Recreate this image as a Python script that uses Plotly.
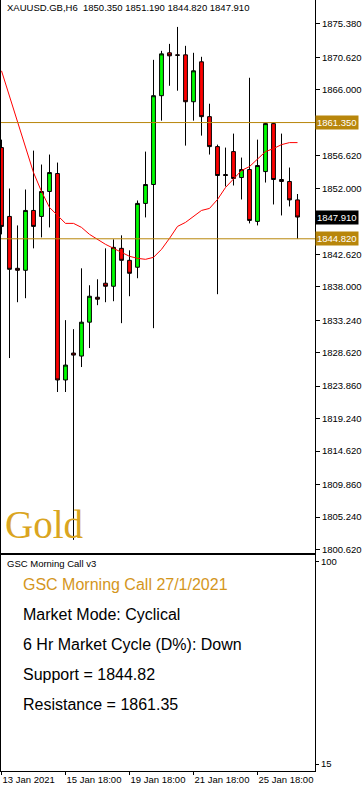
import plotly.graph_objects as go

# ---------------- data ----------------
bar_index = list(range(38))
opens = [1857.79, 1848.00, 1840.62, 1840.34, 1848.85, 1848.00, 1851.55, 1854.10, 1824.74, 1828.57,
         1828.14, 1832.96, 1836.51, 1838.50, 1838.07, 1843.46, 1841.76, 1840.77, 1849.85, 1852.54,
         1865.17, 1871.27, 1870.98, 1870.98, 1864.31, 1869.99, 1862.19, 1857.93, 1853.96, 1857.22,
         1853.53, 1854.67, 1847.29, 1854.38, 1861.20, 1853.25, 1852.97, 1850.35]
highs = [1858.92, 1851.97, 1846.72, 1851.83, 1857.36, 1855.38, 1856.80, 1855.66, 1833.25, 1831.97,
         1840.62, 1838.21, 1839.06, 1843.46, 1844.74, 1845.31, 1843.18, 1850.27, 1857.22, 1870.27,
         1871.55, 1872.54, 1874.95, 1872.26, 1871.27, 1870.70, 1864.03, 1858.21, 1857.79, 1859.78,
         1856.37, 1867.72, 1858.92, 1861.35, 1861.35, 1859.78, 1854.95, 1851.19]
lows = [1845.45, 1827.86, 1835.80, 1836.37, 1843.46, 1845.02, 1846.44, 1823.03, 1823.03, 1802.00,
        1826.58, 1829.28, 1835.38, 1835.80, 1835.94, 1832.82, 1836.65, 1839.21, 1847.86, 1832.11,
        1861.62, 1866.58, 1865.88, 1858.07, 1861.62, 1859.49, 1856.80, 1836.94, 1852.26, 1852.40,
        1850.41, 1847.01, 1846.72, 1852.82, 1849.70, 1848.14, 1849.42, 1844.82]
closes = [1846.58, 1840.48, 1840.34, 1848.85, 1846.58, 1851.55, 1854.24, 1824.74, 1826.86, 1828.28,
          1832.96, 1836.65, 1836.23, 1838.07, 1843.60, 1841.76, 1839.91, 1849.85, 1852.54, 1865.17,
          1871.12, 1870.84, 1870.92, 1864.31, 1868.71, 1862.19, 1857.93, 1853.82, 1853.82, 1853.39,
          1854.67, 1847.43, 1855.24, 1861.20, 1853.25, 1852.97, 1850.35, 1847.91]
ma_values = [1868.71, 1865.02, 1861.34, 1857.79, 1854.24, 1851.55, 1849.28, 1848.14, 1847.01, 1847.01,
             1846.44, 1845.45, 1844.74, 1844.03, 1843.46, 1842.89, 1842.33, 1842.04, 1841.90, 1842.18,
             1843.32, 1844.88, 1846.58, 1847.15, 1848.00, 1848.85, 1849.14, 1850.41, 1852.11, 1853.39,
             1854.53, 1855.09, 1856.23, 1857.22, 1857.65, 1858.21, 1858.50, 1858.50]

support = 1844.82
resistance = 1861.35
last_close = 1847.91

price_ticks = [1875.38, 1870.62, 1866.00, 1856.62, 1852.00, 1842.62, 1838.00,
               1833.24, 1828.62, 1823.86, 1819.24, 1814.62, 1809.86, 1805.24, 1800.62]
time_tick_index = [0, 8, 16, 24, 32]
time_tick_labels = ["13 Jan 2021", "15 Jan 18:00", "19 Jan 18:00", "21 Jan 18:00", "25 Jan 18:00"]
osc_ticks = [15, 100]

header = "XAUUSD.GB,H6\u00a0\u00a01850.350 1851.190 1844.820 1847.910"
indicator_name = "GSC Morning Call v3"
info_title = "GSC Morning Call 27/1/2021"
info_lines = ["Market Mode: Cyclical", "6 Hr Market Cycle (D%): Down",
              "Support = 1844.82", "Resistance = 1861.35"]

# ---------------- layout helpers ----------------
W, H = 364, 791
def px(x):
    return x / W
def py(y):
    return 1 - y / H

GOLD_LINE = "#B8860B"
GOLD_TEXT = "#DAA520"
TICK_FONT = dict(family="Liberation Sans, Arial", size=9.5, color="black")

fig = go.Figure()
fig.add_trace(go.Candlestick(
    x=bar_index, open=opens, high=highs, low=lows, close=closes,
    increasing=dict(line=dict(color="black", width=1), fillcolor="#00FF00"),
    decreasing=dict(line=dict(color="black", width=1), fillcolor="#FF0000"),
    whiskerwidth=0, hoverinfo="skip", showlegend=False,
    xaxis="x", yaxis="y"))
fig.add_trace(go.Scatter(
    x=bar_index, y=ma_values, mode="lines",
    line=dict(color="#FF0000", width=1), hoverinfo="skip", showlegend=False,
    xaxis="x", yaxis="y"))
fig.add_trace(go.Scatter(x=[], y=[], xaxis="x2", yaxis="y2", showlegend=False))

x_range = [-0.0625, -0.0625 + 314 / 8]

fig.update_layout(
    width=W, height=H,
    margin=dict(l=0, r=0, t=0, b=0),
    paper_bgcolor="white", plot_bgcolor="white",
    showlegend=False,
    boxgap=0.32,
    xaxis=dict(domain=[px(1), px(315)], range=x_range, anchor="y",
               showgrid=False, zeroline=False, showticklabels=False, ticks="",
               showline=True, linecolor="black", linewidth=1,
               rangeslider=dict(visible=False), fixedrange=True),
    yaxis=dict(domain=[py(554), 1], range=[1800.19, 1878.78], anchor="x", side="right",
               showgrid=False, zeroline=False, tickvals=price_ticks, tickformat=".3f",
               ticks="outside", ticklen=4, tickcolor="black", tickfont=TICK_FONT,
               showline=True, mirror=True, linecolor="black", linewidth=1),
    xaxis2=dict(domain=[px(1), px(315)], range=x_range, anchor="y2",
                showgrid=False, zeroline=False, tickvals=time_tick_index,
                ticktext=time_tick_labels, ticks="outside", ticklen=3,
                tickcolor="black", tickfont=TICK_FONT, ticklabelposition="outside right",
                showline=True, mirror=True, linecolor="black", linewidth=1),
    yaxis2=dict(domain=[py(773), py(556)], range=[12.07, 102.93], anchor="x2", side="right",
                showgrid=False, zeroline=False, tickvals=osc_ticks,
                ticks="outside", ticklen=3, tickcolor="black", tickfont=TICK_FONT,
                showline=True, mirror=True, linecolor="black", linewidth=1),
)

# support / resistance lines
for level in (resistance, support):
    fig.add_shape(type="line", xref="x domain", yref="y", x0=0, x1=1, y0=level, y1=level,
                  line=dict(color=GOLD_LINE, width=1))

# price boxes on the axis
for level, bg in ((resistance, GOLD_LINE), (support, GOLD_LINE), (last_close, "black")):
    fig.add_annotation(xref="x domain", yref="y", x=1, y=level, xanchor="left", yanchor="middle",
                       text=f"{level:.3f}", showarrow=False, bgcolor=bg, borderpad=1,
                       font=dict(family="Liberation Sans, Arial", size=9.5, color="white"))

# header texts
fig.add_annotation(xref="paper", yref="paper", x=px(5), y=py(8), xanchor="left", yanchor="middle",
                   text=header, showarrow=False, font=TICK_FONT)
fig.add_annotation(xref="paper", yref="paper", x=px(5), y=py(565), xanchor="left", yanchor="middle",
                   text=indicator_name, showarrow=False, font=TICK_FONT)

# Gold watermark
fig.add_annotation(xref="paper", yref="paper", x=px(3), y=py(526), xanchor="left", yanchor="middle",
                   text="Gold", showarrow=False,
                   font=dict(family="Liberation Serif, Times New Roman, serif", size=39, color=GOLD_TEXT))

# info texts
fig.add_annotation(xref="paper", yref="paper", x=px(21), y=py(586), xanchor="left", yanchor="middle",
                   text=info_title, showarrow=False,
                   font=dict(family="Liberation Sans, Arial", size=16, color="#D4961C"))
for i, line in enumerate(info_lines):
    fig.add_annotation(xref="paper", yref="paper", x=px(21), y=py(616 + 30 * i), xanchor="left",
                       yanchor="middle", text=line, showarrow=False,
                       font=dict(family="Liberation Sans, Arial", size=16, color="black"))

fig.write_html("out.html", config={"displayModeBar": False, "staticPlot": True},
               post_script="document.body.style.margin='0';")
